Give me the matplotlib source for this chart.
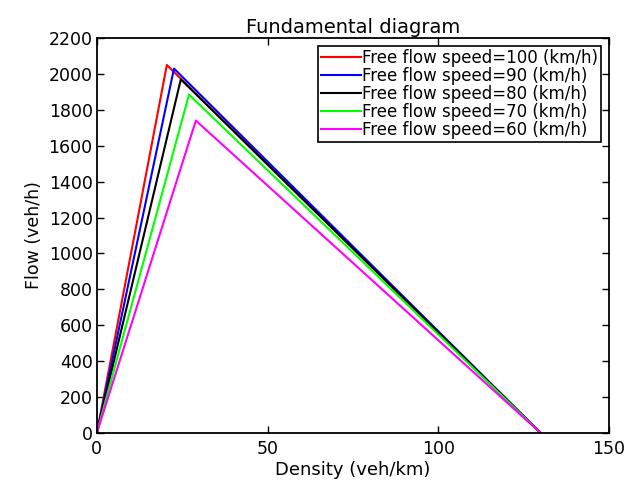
import numpy as np
import matplotlib
matplotlib.use("Agg")
import matplotlib.pyplot as plt

plt.rcParams['font.family'] = ['DejaVu Sans']

# free flow speeds (km/h), critical density (veh/km), capacity (veh/h)
speeds = [100, 90, 80, 70, 60]
crit_density = [20.5, 22.6, 24.6, 27.0, 29.0]
capacity = [2050, 2030, 1970, 1885, 1740]
jam_density = 130
colors = ['#ff0000', '#0000ff', '#000000', '#00ff00', '#ff00ff']


def main():
	fig = plt.figure(figsize=(6.25, 4.82), dpi=100)
	ax = fig.add_axes([0.155, 0.102, 0.819, 0.819])

	for v, kc, qc, c in zip(speeds, crit_density, capacity, colors):
		k = [0, kc, jam_density]
		q = [0, qc, 0]
		ax.plot(k, q, color=c, lw=1.5, label="Free flow speed=%d (km/h)" % v)

	ax.set_xlim(0, 150)
	ax.set_ylim(0, 2200)
	ax.set_xticks([0, 50, 100, 150])
	ax.set_yticks(np.arange(0, 2201, 200))
	ax.tick_params(direction='in', top=True, right=True, labelsize=12.5, length=5, width=1)
	ax.tick_params(axis='x', pad=5)
	ax.tick_params(axis='y', pad=3)
	for s in ax.spines.values():
		s.set_linewidth(1.3)

	ax.set_title("Fundamental diagram", fontsize=14, pad=4)
	ax.set_xlabel("Density (veh/km)", fontsize=13, labelpad=2)
	ax.set_ylabel("Flow (veh/h)", fontsize=12.5, labelpad=4)

	leg = ax.legend(loc='upper right', fontsize=12, handlelength=2.4, handletextpad=0.05,
		borderaxespad=0.45, labelspacing=0.0, fancybox=False, framealpha=1,
		borderpad=0.2)
	leg.get_frame().set_edgecolor('black')
	leg.get_frame().set_linewidth(1.2)

	fig.savefig("out.png", dpi=100)


if __name__ == "__main__":
	main()
